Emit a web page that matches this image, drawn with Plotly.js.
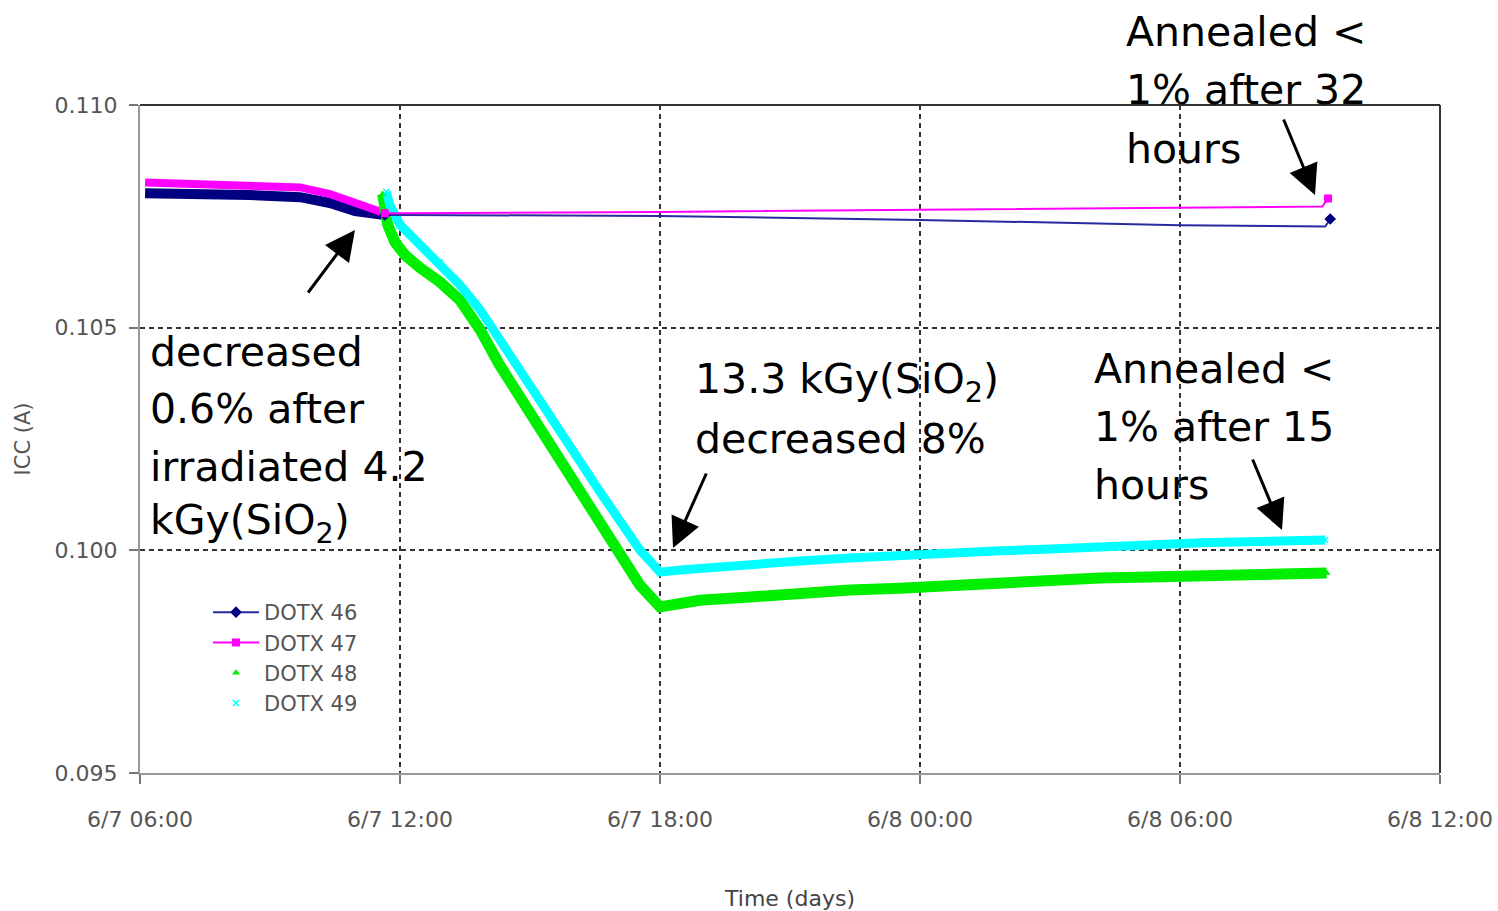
<!DOCTYPE html>
<html>
<head>
<meta charset="utf-8">
<script src="https://cdn.plot.ly/plotly-3.0.1.min.js"></script>
<style>html,body{margin:0;padding:0;background:#fff;}#chart{width:1498px;height:911px;}</style>
</head>
<body>
<div id="chart"></div>
<script>
// ---- DOTX 46 (pre-irradiation band, then flat annealing line) ----
const t46Band = ['2006-06-07 06:07','2006-06-07 07:23','2006-06-07 08:32','2006-06-07 09:42','2006-06-07 10:23','2006-06-07 10:58','2006-06-07 11:25','2006-06-07 11:39'];
const v46Band = [0.10802,0.10801,0.10798,0.10793,0.10780,0.10762,0.10753,0.10753];
const t46 = ['2006-06-07 11:39','2006-06-07 12:00','2006-06-07 18:00','2006-06-08 00:00','2006-06-08 06:00','2006-06-08 09:21','2006-06-08 09:28'];
const v46 = [0.10753,0.10753,0.10751,0.10742,0.10730,0.10727,0.10744];

// ---- DOTX 47 ----
const t47Band = ['2006-06-07 06:07','2006-06-07 07:23','2006-06-07 08:32','2006-06-07 09:42','2006-06-07 10:23','2006-06-07 10:58','2006-06-07 11:18','2006-06-07 11:39'];
const v47Band = [0.10826,0.10823,0.10820,0.10815,0.10800,0.10782,0.10769,0.10757];
const t47 = ['2006-06-07 11:39','2006-06-07 12:00','2006-06-07 18:00','2006-06-08 00:00','2006-06-08 06:00','2006-06-08 09:17','2006-06-08 09:25'];
const v47 = [0.10757,0.10757,0.10760,0.10765,0.10770,0.10772,0.10790];

// ---- DOTX 48 ----
const t48 = ['2006-06-07 11:36','2006-06-07 11:43','2006-06-07 11:53','2006-06-07 12:07','2006-06-07 12:28','2006-06-07 12:55','2006-06-07 13:23','2006-06-07 13:51','2006-06-07 14:18','2006-06-07 15:28','2006-06-07 16:37','2006-06-07 17:32','2006-06-07 18:00','2006-06-07 18:14','2006-06-07 18:55','2006-06-07 20:05','2006-06-07 21:14','2006-06-07 22:23','2006-06-07 23:32','2006-06-08 00:42','2006-06-08 01:51','2006-06-08 03:00','2006-06-08 04:09','2006-06-08 05:18','2006-06-08 06:28','2006-06-08 07:37','2006-06-08 08:46','2006-06-08 09:23'];
const v48 = [0.10800,0.10731,0.10692,0.10663,0.10634,0.10603,0.10562,0.10495,0.10416,0.10237,0.10057,0.09922,0.09873,0.09877,0.09888,0.09895,0.09904,0.09911,0.09915,0.09922,0.09927,0.09931,0.09938,0.09940,0.09942,0.09945,0.09949,0.09949];

// ---- DOTX 49 ----
const t49 = ['2006-06-07 11:41','2006-06-07 11:46','2006-06-07 12:00','2006-06-07 12:28','2006-06-07 12:55','2006-06-07 13:23','2006-06-07 13:51','2006-06-07 14:18','2006-06-07 15:28','2006-06-07 16:37','2006-06-07 17:32','2006-06-07 18:00','2006-06-07 18:28','2006-06-07 18:55','2006-06-07 20:05','2006-06-07 21:14','2006-06-07 22:23','2006-06-07 23:32','2006-06-08 00:42','2006-06-08 01:51','2006-06-08 03:00','2006-06-08 04:09','2006-06-08 05:18','2006-06-08 06:28','2006-06-08 07:37','2006-06-08 09:21'];
const v49 = [0.10805,0.10775,0.10731,0.10686,0.10647,0.10596,0.10540,0.10472,0.10304,0.10131,0.10001,0.09951,0.09956,0.09960,0.09967,0.09976,0.09983,0.09990,0.09994,0.09999,0.10003,0.10010,0.10012,0.10017,0.10019,0.10023];

const seriesNames = ['DOTX 46','DOTX 47','DOTX 48','DOTX 49'];
const xRange = ['2006-06-07 06:00','2006-06-08 12:00'];
const yRange = [0.095, 0.110];

const NAVY = '#000080', MAG = '#ff00ff', GREEN = '#00ee00', CYAN = '#00ffff';
const CLEAR = 'rgba(0,0,0,0)';
function endColors(n, c){ return Array.from({length:n}, (_, i) => (i === 0 || i === n-1) ? c : CLEAR); }

const traces = [
  {x:t46Band, y:v46Band, mode:'lines', line:{color:NAVY, width:10}, showlegend:false, hoverinfo:'skip'},
  {x:t47Band, y:v47Band, mode:'lines', line:{color:MAG, width:8}, showlegend:false, hoverinfo:'skip'},
  {x:t48, y:v48, mode:'lines', line:{color:GREEN, width:11}, showlegend:false, hoverinfo:'skip'},
  {x:t49, y:v49, mode:'lines', line:{color:CYAN, width:9}, showlegend:false, hoverinfo:'skip'},
  {x:t46, y:v46, name:seriesNames[0], mode:'lines+markers', line:{color:'#2a2aa0', width:2},
   marker:{symbol:'diamond', size:9, color:endColors(t46.length, NAVY), line:{width:0}}, legendrank:1},
  {x:t47, y:v47, name:seriesNames[1], mode:'lines+markers', line:{color:MAG, width:2},
   marker:{symbol:'square', size:8, color:endColors(t47.length, MAG), line:{width:0}}, legendrank:2},
  {x:t48, y:v48, name:seriesNames[2], mode:'markers', marker:{symbol:'triangle-up', size:7, color:GREEN}, legendrank:3},
  {x:t49, y:v49, name:seriesNames[3], mode:'markers', marker:{symbol:'x-thin', size:6, color:CYAN, line:{color:CYAN, width:1.5}}, legendrank:4}
];

function px2x(px){ return (px-140)/1300; }
function px2y(py){ return (773-py)/668; }
const AF = {family:'DejaVu Sans', size:41, color:'#000'};
function txt(s, px, py){ return {text:s, xref:'paper', yref:'paper', x:px2x(px), y:px2y(py), xanchor:'left', yanchor:'middle', showarrow:false, font:AF}; }
function arrow(tipx, tipy, tailx, taily){
  return {text:'', xref:'paper', yref:'paper', x:px2x(tipx), y:px2y(tipy), ax:tailx-tipx, ay:taily-tipy,
          showarrow:true, arrowhead:2, arrowsize:2, arrowwidth:3, arrowcolor:'#000', standoff:0};
}

const annotations = [
  txt('decreased', 148, 352),
  txt('0.6% after', 148, 409),
  txt('irradiated 4.2', 148, 467),
  txt('kGy(SiO<sub>2</sub>)', 148, 523),
  txt('13.3 kGy(SiO<sub>2</sub>)', 693, 382),
  txt('decreased 8%', 693, 439),
  txt('Annealed &lt;', 1124, 32),
  txt('1% after 32', 1124, 90),
  txt('hours', 1124, 149),
  txt('Annealed &lt;', 1092, 369),
  txt('1% after 15', 1092, 427),
  txt('hours', 1092, 485),
  arrow(355, 230, 307, 294),
  arrow(673, 548, 707, 472),
  arrow(1315, 195, 1283, 118),
  arrow(1282, 530, 1252, 458)
];

const tickFont = {family:'DejaVu Sans', size:22, color:'#555'};
const layout = {
  width:1498, height:911,
  margin:{l:140, r:58, t:105, b:138},
  paper_bgcolor:'#fff', plot_bgcolor:'#fff',
  showlegend:true,
  legend:{x:px2x(208), y:px2y(592), xanchor:'left', yanchor:'top', bgcolor:'rgba(0,0,0,0)',
          font:{family:'DejaVu Sans', size:21, color:'#555'}, itemwidth:46},
  xaxis:{type:'date', range:xRange, tick0:xRange[0], dtick:21600000, tickformat:'%-m/%-d %H:%M',
         showgrid:true, gridcolor:'#333', gridwidth:2, griddash:'5px,4px',
         showline:true, linecolor:'#999', linewidth:2, ticks:'outside', ticklen:9, tickcolor:'#777', tickwidth:2,
         tickfont:tickFont, ticklabelstandoff:17, zeroline:false,
         title:{text:'Time (days)', font:{family:'DejaVu Sans', size:22, color:'#444'}, standoff:59}},
  yaxis:{range:yRange, dtick:0.005, tickformat:'.3f',
         showgrid:true, gridcolor:'#333', gridwidth:2, griddash:'5px,4px',
         showline:true, linecolor:'#999', linewidth:2, ticks:'outside', ticklen:9, tickcolor:'#777', tickwidth:2,
         tickfont:tickFont, ticklabelstandoff:7, zeroline:false,
         title:{text:'ICC (A)', font:{family:'DejaVu Sans', size:21, color:'#555'}, standoff:18}},
  shapes:[
    {type:'line', xref:'paper', yref:'paper', x0:0, x1:1, y0:1, y1:1, line:{color:'#333', width:2}},
    {type:'line', xref:'paper', yref:'paper', x0:1, x1:1, y0:0, y1:1, line:{color:'#333', width:2}}
  ],
  annotations:annotations
};

Plotly.newPlot('chart', traces, layout, {displayModeBar:false, staticPlot:true});
</script>
</body>
</html>
